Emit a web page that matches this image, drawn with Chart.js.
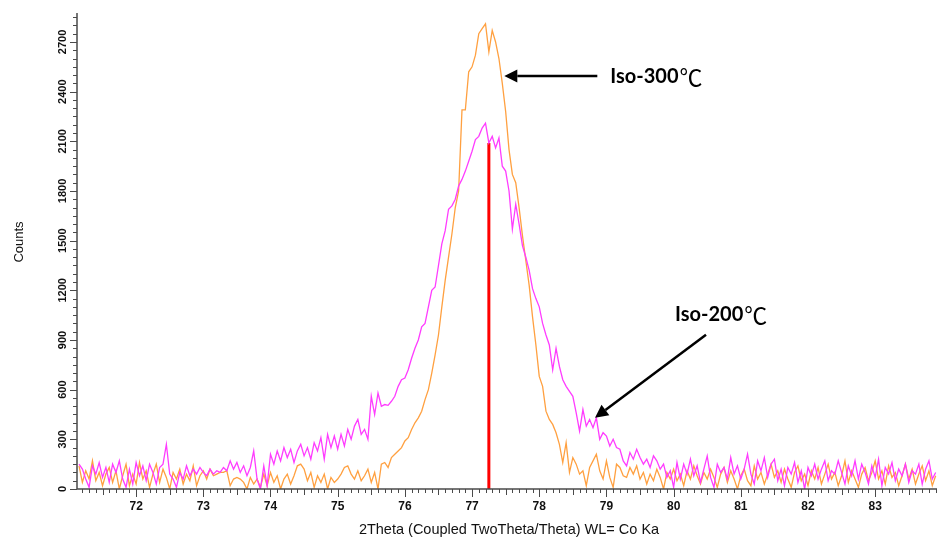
<!DOCTYPE html>
<html>
<head>
<meta charset="utf-8">
<script src="https://cdn.jsdelivr.net/npm/chart.js@4/dist/chart.umd.min.js"></script>
<style>
  html, body { margin: 0; padding: 0; background: #fff; }
  #xrd { display: block; }
</style>
</head>
<body>
<canvas id="xrd" width="937" height="538"></canvas>
<script>
// 2Theta sample positions (deg)
const twoTheta = [
  71.15,71.2,71.25,71.3,71.35,71.4,71.45,71.5,71.55,71.6,71.65,71.7,71.75,71.8,71.85,71.9,71.95,
  72,72.05,72.1,72.15,72.2,72.25,72.3,72.35,72.4,72.45,72.5,72.55,72.6,72.65,72.7,72.75,72.8,72.85,72.9,72.95,
  73,73.05,73.1,73.15,73.2,73.25,73.3,73.35,73.4,73.45,73.5,73.55,73.6,73.65,73.7,73.75,73.8,73.85,73.9,73.95,
  74,74.05,74.1,74.15,74.2,74.25,74.3,74.35,74.4,74.45,74.5,74.55,74.6,74.65,74.7,74.75,74.8,74.85,74.9,74.95,
  75,75.05,75.1,75.15,75.2,75.25,75.3,75.35,75.4,75.45,75.5,75.55,75.6,75.65,75.7,75.75,75.8,75.85,75.9,75.95,
  76,76.05,76.1,76.15,76.2,76.25,76.3,76.35,76.4,76.45,76.5,76.55,76.6,76.65,76.7,76.75,76.8,76.85,76.9,76.95,
  77,77.05,77.1,77.15,77.2,77.25,77.3,77.35,77.4,77.45,77.5,77.55,77.6,77.65,77.7,77.75,77.8,77.85,77.9,77.95,
  78,78.05,78.1,78.15,78.2,78.25,78.3,78.35,78.4,78.45,78.5,78.55,78.6,78.65,78.7,78.75,78.8,78.85,78.9,78.95,
  79,79.05,79.1,79.15,79.2,79.25,79.3,79.35,79.4,79.45,79.5,79.55,79.6,79.65,79.7,79.75,79.8,79.85,79.9,79.95,
  80,80.05,80.1,80.15,80.2,80.25,80.3,80.35,80.4,80.45,80.5,80.55,80.6,80.65,80.7,80.75,80.8,80.85,80.9,80.95,
  81,81.05,81.1,81.15,81.2,81.25,81.3,81.35,81.4,81.45,81.5,81.55,81.6,81.65,81.7,81.75,81.8,81.85,81.9,81.95,
  82,82.05,82.1,82.15,82.2,82.25,82.3,82.35,82.4,82.45,82.5,82.55,82.6,82.65,82.7,82.75,82.8,82.85,82.9,82.95,
  83,83.05,83.1,83.15,83.2,83.25,83.3,83.35,83.4,83.45,83.5,83.55,83.6,83.65,83.7,83.75,83.8,83.85,83.9
];

// Iso-200 (magenta) counts
const iso200 = [
  150,120,60,10,140,90,160,70,130,40,150,100,170,60,10,120,30,
  160,80,140,50,150,100,30,130,150,270,90,60,10,100,60,140,80,120,90,130,
  100,80,120,90,110,100,130,110,170,120,160,100,140,80,130,230,60,0,140,20,
  210,150,230,170,250,190,240,160,230,270,200,250,180,280,230,310,180,330,250,320,
  240,330,260,360,300,380,420,330,360,300,560,450,580,500,510,505,530,560,620,660,
  670,720,790,850,900,980,1000,1100,1200,1220,1350,1480,1560,1690,1710,1750,1830,1870,1920,1980,
  2040,2110,2130,2180,2210,2090,2130,2060,2120,1950,1920,1800,1570,1720,1600,1470,1400,1320,1210,1150,
  1100,1000,930,870,720,850,740,660,620,590,560,460,350,480,380,420,370,430,300,340,
  320,260,300,250,240,170,140,220,180,240,190,150,180,130,200,170,120,150,70,110,
  10,160,60,150,90,180,80,140,40,120,200,70,10,150,100,130,60,190,90,140,
  60,120,210,90,30,170,110,190,70,150,180,50,120,20,130,90,160,40,110,0,
  130,80,150,60,120,170,50,110,90,170,100,30,140,80,170,60,150,100,30,140,
  70,180,20,130,90,160,50,120,80,150,40,110,90,150,30,120,170,60,100
];

// Iso-300 (orange) counts
const iso300 = [
  140,40,110,60,170,50,100,20,90,130,40,110,0,80,150,20,90,
  30,160,60,110,10,90,150,40,120,70,0,100,60,120,30,90,50,140,20,80,
  110,60,120,80,90,100,100,110,20,60,70,60,40,0,70,30,60,10,90,20,
  100,40,80,0,60,90,30,80,140,150,120,50,100,10,80,40,90,0,70,40,
  60,90,130,140,90,60,110,50,80,120,40,100,0,150,160,130,190,210,230,250,
  290,310,360,400,430,470,540,600,700,810,930,1100,1260,1400,1540,1700,1800,2290,2290,2520,
  2550,2620,2750,2780,2810,2640,2770,2700,2600,2450,2280,2050,1900,1850,1700,1530,1380,1230,1040,870,
  680,620,470,420,390,340,270,160,280,100,190,150,90,110,20,130,170,210,110,60,
  170,70,10,150,130,80,70,130,90,140,60,100,30,90,50,120,70,0,100,60,
  120,50,90,20,110,60,140,80,30,100,60,120,70,10,90,130,40,110,60,0,
  80,120,50,20,140,60,100,30,90,150,70,110,40,120,60,10,100,140,50,90,
  20,110,60,130,30,90,150,60,100,20,80,170,40,110,60,10,90,130,50,100,
  170,60,110,30,140,70,100,20,80,150,60,120,30,90,140,50,110,20,80
];

// reference peak position (red stick)
const refPeakTheta = [77.25, 77.25];
const refPeakCounts = [0, 2090];

// axis ticks
const xTickLabels = [72, 73, 74, 75, 76, 77, 78, 79, 80, 81, 82, 83];
const yTickLabels = [0, 300, 600, 900, 1200, 1500, 1800, 2100, 2400, 2700];
const xRange = [71.12, 83.92];
const yRange = [0, 2875];

// arrow annotations: tip in data units, tail / text offset in px
const notes = [
  { label: 'Iso-300', tip: [77.48, 2495], tail: [93, 0], text: [106, 1] },
  { label: 'Iso-200', tip: [78.83, 430], tail: [111, -83], text: [80, -103] }
];

const toPts = ys => twoTheta.map((t, i) => ({ x: t, y: ys[i] }));

const decor = {
  id: 'decor',
  afterDraw(chart) {
    const { ctx, chartArea: a, scales: { x, y } } = chart;
    ctx.save();
    ctx.strokeStyle = '#4a4a4a';
    ctx.fillStyle = '#111';

    // axis lines
    ctx.lineWidth = 1.5;
    ctx.beginPath();
    ctx.moveTo(a.left, a.top);
    ctx.lineTo(a.left, a.bottom);
    ctx.lineTo(a.right, a.bottom);
    ctx.stroke();

    // y ticks every 50, long at labels
    ctx.lineWidth = 1;
    ctx.beginPath();
    for (let v = 0; v <= y.max; v += 50) {
      const py = Math.round(y.getPixelForValue(v)) + 0.5;
      const len = v % 300 === 0 ? 7 : 4;
      ctx.moveTo(a.left - len, py);
      ctx.lineTo(a.left, py);
    }
    // x ticks every 0.1
    for (let k = Math.ceil(x.min * 10); k <= Math.floor(x.max * 10); k++) {
      const px = Math.round(x.getPixelForValue(k / 10)) + 0.5;
      const len = k % 10 === 0 ? 8 : (k % 5 === 0 ? 6 : 4);
      ctx.moveTo(px, a.bottom);
      ctx.lineTo(px, a.bottom + len);
    }
    ctx.stroke();

    // tick labels
    ctx.textAlign = 'center';
    ctx.textBaseline = 'middle';
    ctx.font = 'bold 12px "Liberation Sans", Arial, sans-serif';
    xTickLabels.forEach(v => ctx.fillText(String(v), x.getPixelForValue(v), 507));
    ctx.font = 'bold 11px "Liberation Sans", Arial, sans-serif';
    yTickLabels.forEach(v => {
      ctx.save();
      ctx.translate(63, y.getPixelForValue(v));
      ctx.rotate(-Math.PI / 2);
      ctx.fillText(String(v), 0, 0);
      ctx.restore();
    });

    // axis titles
    ctx.font = '14.5px "Liberation Sans", Arial, sans-serif';
    ctx.fillText('2Theta (Coupled TwoTheta/Theta) WL= Co Ka', 509, 530);
    ctx.save();
    ctx.translate(19, 242);
    ctx.rotate(-Math.PI / 2);
    ctx.font = '13px "Liberation Sans", Arial, sans-serif';
    ctx.fillText('Counts', 0, 0);
    ctx.restore();

    // arrows + labels
    notes.forEach(n => {
      const tx = x.getPixelForValue(n.tip[0]);
      const ty = y.getPixelForValue(n.tip[1]);
      const sx = tx + n.tail[0], sy = ty + n.tail[1];
      const ang = Math.atan2(ty - sy, tx - sx);
      const head = 13, half = 6.5;
      const bx = tx - head * Math.cos(ang), by = ty - head * Math.sin(ang);
      ctx.strokeStyle = '#000';
      ctx.fillStyle = '#000';
      ctx.lineWidth = 2.5;
      ctx.beginPath();
      ctx.moveTo(sx, sy);
      ctx.lineTo(bx, by);
      ctx.stroke();
      ctx.beginPath();
      ctx.moveTo(tx, ty);
      ctx.lineTo(bx + half * Math.sin(ang), by - half * Math.cos(ang));
      ctx.lineTo(bx - half * Math.sin(ang), by + half * Math.cos(ang));
      ctx.closePath();
      ctx.fill();

      ctx.textAlign = 'left';
      ctx.textBaseline = 'middle';
      ctx.font = 'bold 20px Lato, "Open Sans", sans-serif';
      const lx = tx + n.text[0], ly = ty + n.text[1];
      ctx.fillText(n.label, lx, ly);
      const w = ctx.measureText(n.label).width;
      ctx.font = '23px "Noto Sans CJK SC", sans-serif';
      ctx.fillText('℃', lx + w + 1, ly);
    });
    ctx.restore();
  }
};

new Chart(document.getElementById('xrd'), {
  type: 'line',
  data: {
    datasets: [
      { label: 'Iso-200', data: toPts(iso200), borderColor: '#ff3cff', borderWidth: 1.3 },
      { label: 'Iso-300', data: toPts(iso300), borderColor: '#ffa040', borderWidth: 1.3 },
      {
        label: 'ref',
        data: refPeakTheta.map((t, i) => ({ x: t, y: refPeakCounts[i] })),
        borderColor: '#ff0000', borderWidth: 3
      }
    ]
  },
  options: {
    responsive: false,
    animation: false,
    devicePixelRatio: 1,
    elements: { point: { radius: 0 }, line: { tension: 0 } },
    layout: { padding: { top: 13, right: 0, left: 0, bottom: 0 } },
    plugins: { legend: { display: false }, tooltip: { enabled: false } },
    scales: {
      x: {
        type: 'linear', min: xRange[0], max: xRange[1],
        grid: { display: false }, border: { display: false }, ticks: { display: false },
        afterFit: s => { s.height = 49; }
      },
      y: {
        min: yRange[0], max: yRange[1],
        grid: { display: false }, border: { display: false }, ticks: { display: false },
        afterFit: s => { s.width = 77; }
      }
    }
  },
  plugins: [decor]
});
</script>
</body>
</html>
